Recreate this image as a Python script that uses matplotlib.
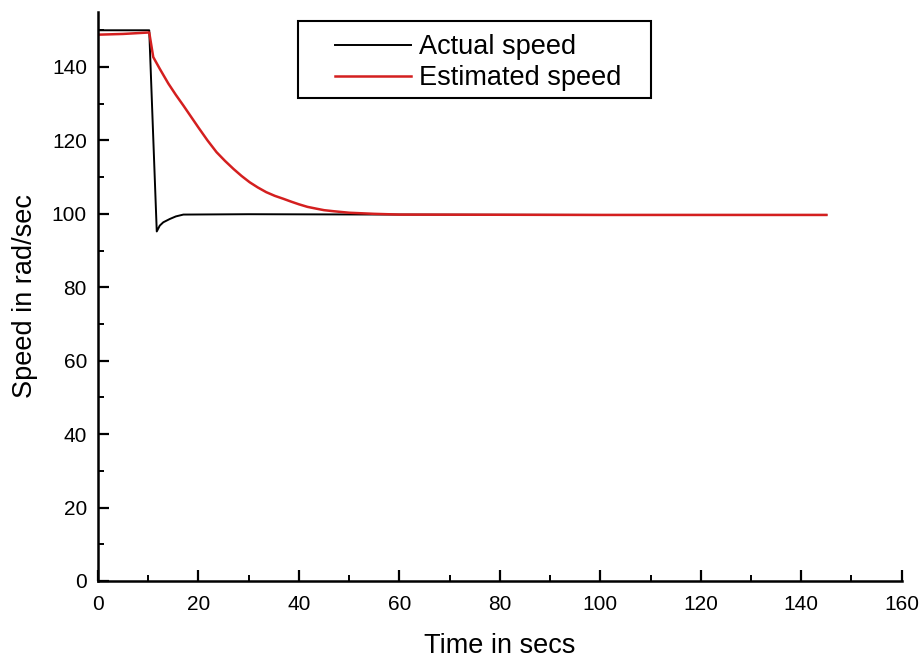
import matplotlib
matplotlib.use("Agg")
import matplotlib.pyplot as plt
from matplotlib.patches import Rectangle
from matplotlib.ticker import MultipleLocator

# values
t_actual = [0, 10.2, 11.7, 12.3, 13.0, 14.3, 15.5, 17.0, 30, 60, 100, 145]
w_actual = [150, 150, 95.2, 96.8, 97.7, 98.6, 99.3, 99.8, 99.9, 99.8, 99.7, 99.7]

t_est = [0, 5, 10.2, 11.0, 12.3, 14, 15.5, 17, 18.5, 20, 21.8, 23.6, 25.3, 27, 28.6, 30.2,
         31.8, 33.5, 35.2, 36.9, 38.5, 40, 41.7, 43.5, 45, 47, 50, 55, 60, 100, 145]
w_est = [148.8, 149.0, 149.4, 142.7, 139.5, 135.5, 132.4, 129.5, 126.5, 123.5, 120.0, 116.8,
         114.4, 112.2, 110.3, 108.6, 107.2, 105.9, 104.9, 104.1, 103.3, 102.6, 101.9, 101.4,
         101.0, 100.7, 100.3, 100.0, 99.8, 99.7, 99.7]

plt.rcParams['font.family'] = ['Liberation Sans', 'DejaVu Sans']

fig = plt.figure(figsize=(9.21, 6.62), dpi=100)
ax = fig.add_axes([0.1064, 0.1224, 0.8726, 0.8596])

ax.plot(t_actual, w_actual, color='black', lw=1.4, label='Actual speed')
ax.plot(t_est, w_est, color='#d41f1f', lw=1.8, label='Estimated speed')

ax.set_xlim(0, 160)
ax.set_ylim(0, 155)
ax.xaxis.set_major_locator(MultipleLocator(20))
ax.xaxis.set_minor_locator(MultipleLocator(10))
ax.yaxis.set_major_locator(MultipleLocator(20))
ax.yaxis.set_minor_locator(MultipleLocator(10))

for s in ['top', 'right']:
    ax.spines[s].set_visible(False)
for s in ['left', 'bottom']:
    ax.spines[s].set_linewidth(1.8)

ax.tick_params(which='major', direction='in', length=8, width=1.6, labelsize=15)
ax.tick_params(axis='x', which='major', pad=10)
ax.tick_params(axis='y', which='major', pad=8)
ax.tick_params(which='minor', direction='in', length=4.5, width=1.4)

ax.set_xlabel('Time in secs', fontsize=19.5, labelpad=14)
ax.set_ylabel('Speed in rad/sec', fontsize=19.5, labelpad=10)

# legend text without its own frame, box drawn separately (wider padding than matplotlib allows)
leg = ax.legend(loc='upper left', bbox_to_anchor=(335 / 921, 1 - 34 / 662),
                bbox_transform=fig.transFigure, fontsize=19.5, frameon=False,
                handlelength=2.8, handletextpad=0.3, borderpad=0,
                labelspacing=0.2, borderaxespad=0)
fig.patches.append(Rectangle((298 / 921, 1 - 98 / 662), 353 / 921, 77 / 662,
                             transform=fig.transFigure, fill=False,
                             edgecolor='black', lw=1.5))

fig.savefig('out.png', dpi=100)
